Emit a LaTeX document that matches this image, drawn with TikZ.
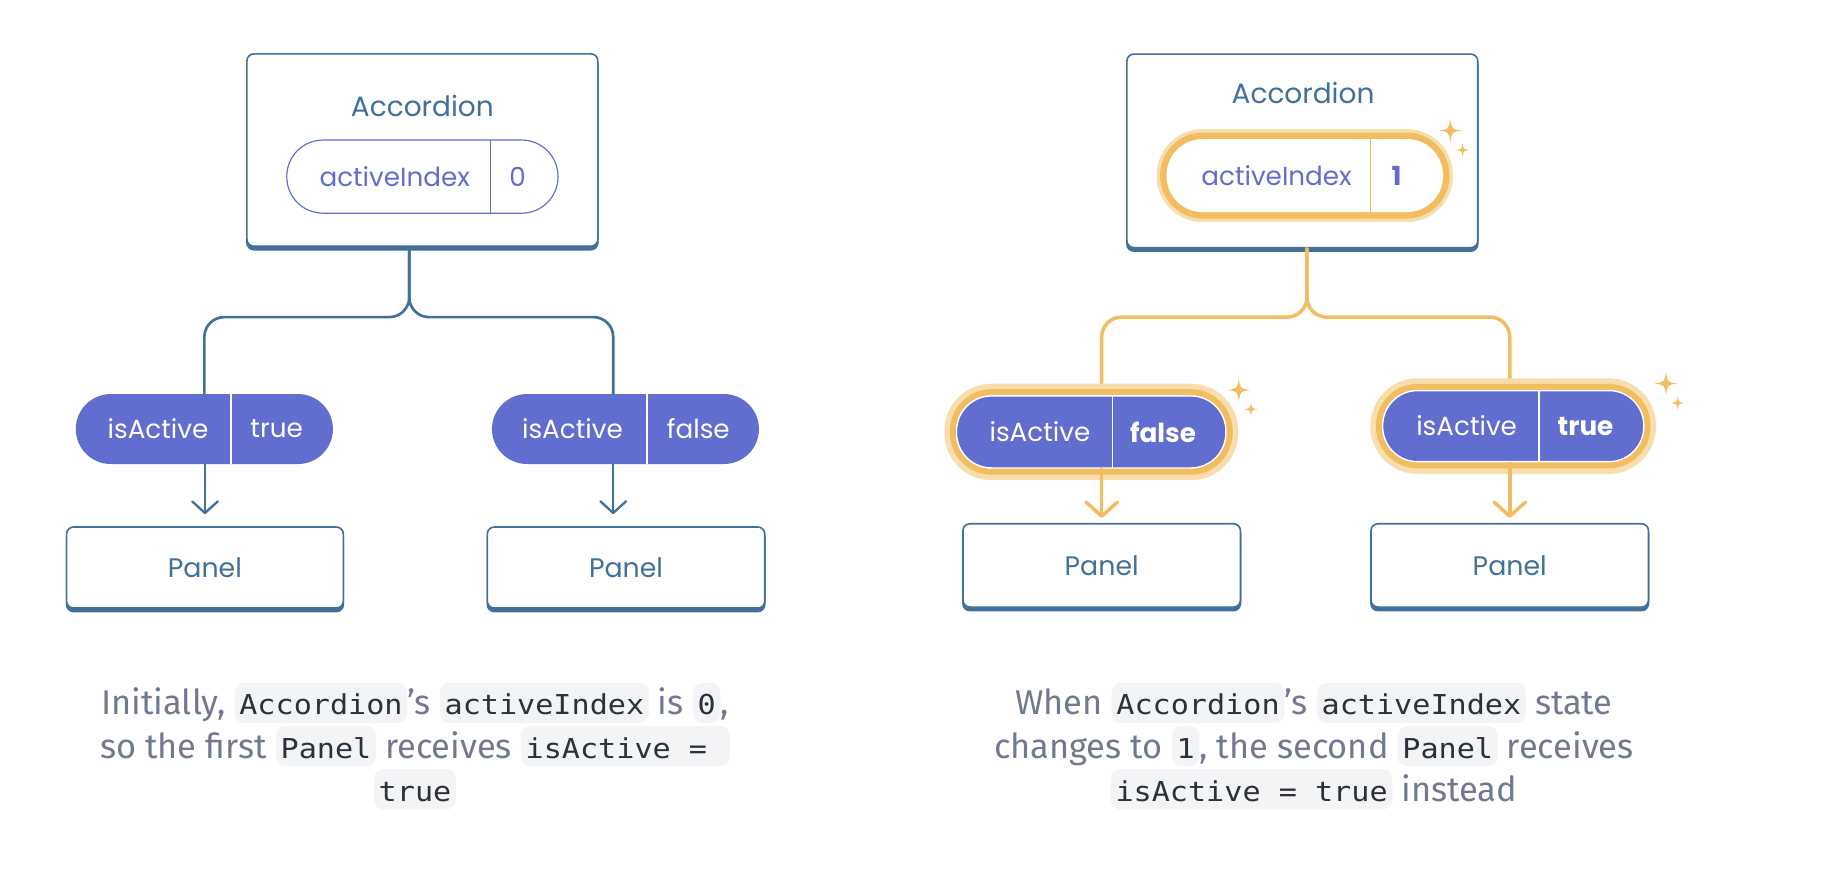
\documentclass[tikz,border=0pt]{standalone}
\usepackage{fontspec}
\setmainfont{Fira Sans}
\newfontfamily\diagfont{Poppins}
\newfontfamily\codefont[FakeStretch=1.1]{DejaVu Sans Mono}
\usetikzlibrary{positioning,calc,arrows.meta}

\definecolor{boxblue}{HTML}{41709A}
\definecolor{pillpurple}{HTML}{616DCF}
\definecolor{gold}{HTML}{F2BD60}
\definecolor{goldglow}{HTML}{F8DEAD}
\definecolor{capgray}{HTML}{6F7A90}
\definecolor{chipgray}{HTML}{F3F4F6}
\definecolor{codeink}{HTML}{2B313B}

\tikzset{
  codechip/.style={fill=chipgray, rounded corners=8pt, inner xsep=4pt, inner ysep=0pt,
    text height=27.5pt, text depth=7pt, text=codeink, font=\codefont\fontsize{23.5}{28}\selectfont},
  sparkle/.pic={\fill[gold] (0,-1) .. controls (0.12,-0.12) .. (1,0) .. controls (0.12,0.12) .. (0,1)
    .. controls (-0.12,0.12) .. (-1,0) .. controls (-0.12,-0.12) .. cycle;}
}
\newcommand\code[1]{\tikz[baseline=(chip.base)]\node[codechip] (chip) {#1};}

\begin{document}
\begin{tikzpicture}[x=1pt, y=-1pt,
    compbox/.style={draw=boxblue, line width=1.4pt, fill=white, rounded corners=6pt, inner sep=0pt, outer sep=0pt,
      text=boxblue, font=\diagfont\fontsize{23}{28}\selectfont,
      preaction={fill=boxblue, draw=boxblue, line width=1.4pt, transform canvas={yshift=-3pt}}},
    title/.style={text=boxblue, font=\diagfont\fontsize{24}{28}\selectfont},
    pill/.style={draw=pillpurple, line width=1pt, fill=white, rounded corners=31pt, inner sep=0pt, outer sep=0pt},
    propill/.style={fill=pillpurple, rounded corners=30pt, inner sep=0pt, outer sep=0pt},
    glowpill/.style={propill, draw=white, line width=1.2pt,
      preaction={draw=goldglow, line width=21pt}, preaction={draw=gold, line width=11.5pt}},
    glowidx/.style={fill=white, rounded corners=31pt, inner sep=0pt, outer sep=0pt,
      preaction={draw=goldglow, line width=17pt}, preaction={draw=gold, line width=11pt}},
    pillkey/.style={text=white, font=\diagfont\fontsize{22.5}{27}\selectfont},
    pillval/.style={pillkey, font=\diagfont\bfseries\fontsize{22.5}{27}\selectfont},
    divider/.style={draw=white, line width=1.2pt},
    tree/.style={draw=boxblue, line width=2.3pt, rounded corners=17pt},
    goldtree/.style={draw=gold, line width=3pt, rounded corners=17pt},
    flow/.style={draw=boxblue, line width=2pt, -{Straight Barb[length=10pt, width=22pt, round]}},
    goldflow/.style={draw=gold, line width=3pt, -{Straight Barb[length=12pt, width=27pt, round]}},
    caption/.style={align=center, text=capgray, font=\fontsize{29.5}{37}\selectfont, inner sep=0pt}
  ]
  \useasboundingbox (0,0) rectangle (1568,753.1);

  % left: initial state
  \node[compbox, minimum width=301, minimum height=165] (accL) at (362.3,128.7) {};
  \node[title] (accL-title) at (362.3,91) {Accordion};
  \node[pill, minimum width=232.6, minimum height=62.7] (idxL) at (362.3,151.5) {};
  \node[pillkey, text=pillpurple] (idxL-key) at (338.6,151.5) {activeIndex};
  \node[pillkey, text=pillpurple] (idxL-val) at (444,151.5) {0};
  \coordinate (idxL-cut) at (421,151.5);
  \draw[draw=pillpurple, line width=1pt] (idxL-cut |- idxL.north) -- (idxL-cut |- idxL.south);

  \node[propill, minimum width=220.6, minimum height=60] (actL) at (175.3,368) {};
  \node[pillkey] (actL-key) at (135.5,368) {isActive};
  \node[pillkey] (actL-val) at (237.3,368) {true};
  \coordinate (actL-cut) at (198,368);
  \draw[divider] (actL-cut |- actL.north) -- (actL-cut |- actL.south);

  \node[propill, minimum width=229, minimum height=60] (actL2) at (536.5,368) {};
  \node[pillkey] (actL2-key) at (491,368) {isActive};
  \node[pillkey] (actL2-val) at (599,368) {false};
  \coordinate (actL2-cut) at (555,368);
  \draw[divider] (actL2-cut |- actL2.north) -- (actL2-cut |- actL2.south);

  \node[compbox, minimum width=237.4, minimum height=69.5] (panelL) at (175.8,486.8) {Panel};
  \node[compbox, minimum width=238, minimum height=69.5] (panelL2) at (537,486.8) {Panel};

  \coordinate (forkL) at (351,272);
  \coordinate (dropL2) at (526,452);
  \draw[tree] (forkL |- accL.south) -- (forkL) -| (actL.north);
  \draw[tree] (forkL |- accL.south) -- (forkL) -| (dropL2 |- actL2.north);
  \draw[flow, shorten >=11pt] (panelL.north |- actL.south) -- (panelL.north);
  \draw[flow, shorten >=11pt] (dropL2 |- actL2.south) -- (dropL2);

  % right: after the change
  \node[compbox, minimum width=301, minimum height=166] (accR) at (1117.1,129.4) {};
  \node[title] (accR-title) at (1117.7,80) {Accordion};

  \coordinate (forkR) at (1121,272);
  \node[compbox, minimum width=238, minimum height=71.5] (panelR1) at (945,485) {Panel};
  \node[compbox, minimum width=238, minimum height=71.5] (panelR2) at (1295,485) {Panel};
  \draw[goldtree] (forkR |- accR.south) -- (forkR) -| (panelR1.north |- 0,340);
  \draw[goldtree] (forkR |- accR.south) -- (forkR) -| (panelR2.north |- 0,335);

  \node[glowidx, minimum width=237.2, minimum height=62.7] (idxR) at (1119.2,150.6) {};
  \node[pillkey, text=pillpurple] (idxR-key) at (1095,150.6) {activeIndex};
  \node[pillval, text=pillpurple] (idxR-val) at (1198,150.6) {1};
  \coordinate (idxR-cut) at (1175.6,150.6);
  \draw[draw=gold, line width=1pt] (idxR-cut |- idxR.north) -- (idxR-cut |- idxR.south);

  \node[glowpill, minimum width=231, minimum height=61.8] (actR1) at (936,370.5) {};
  \node[pillkey] (actR1-key) at (892,370.5) {isActive};
  \node[pillval] (actR1-val) at (997.6,370.5) {false};
  \coordinate (actR1-cut) at (954.3,370.5);
  \draw[divider] (actR1-cut |- actR1.north) -- (actR1-cut |- actR1.south);

  \node[glowpill, minimum width=224, minimum height=61] (actR2) at (1298,365.5) {};
  \node[pillkey] (actR2-key) at (1258,365.5) {isActive};
  \node[pillval] (actR2-val) at (1360,365.5) {true};
  \coordinate (actR2-cut) at (1320,365.5);
  \draw[divider] (actR2-cut |- actR2.north) -- (actR2-cut |- actR2.south);

  \draw[goldflow, shorten >=5pt] (panelR1.north |- actR1.south) -- (panelR1.north);
  \draw[goldflow, shorten >=5pt] (panelR2.north |- actR2.south) -- (panelR2.north);

  \pic[scale=10] (sparkA) at (1244,112) {sparkle};
  \pic[scale=6] (sparkB) at (1254.5,128.6) {sparkle};
  \pic[scale=10] (sparkC) at (1062.6,334.5) {sparkle};
  \pic[scale=6] (sparkD) at (1073,351) {sparkle};
  \pic[scale=10] (sparkE) at (1429,329) {sparkle};
  \pic[scale=6] (sparkF) at (1439,345.6) {sparkle};

  % captions
  \node[caption] (capL) at (356,640) {Initially, \code{Accordion}’s \code{activeIndex} is \code{0},\\so the first \code{Panel} receives \code{isActive =~}\\\code{true}};
  \node[caption] (capR) at (1127,640) {When \code{Accordion}’s \code{activeIndex} state\\changes to \code{1}, the second \code{Panel} receives\\\code{isActive = true} instead};
\end{tikzpicture}
\end{document}
